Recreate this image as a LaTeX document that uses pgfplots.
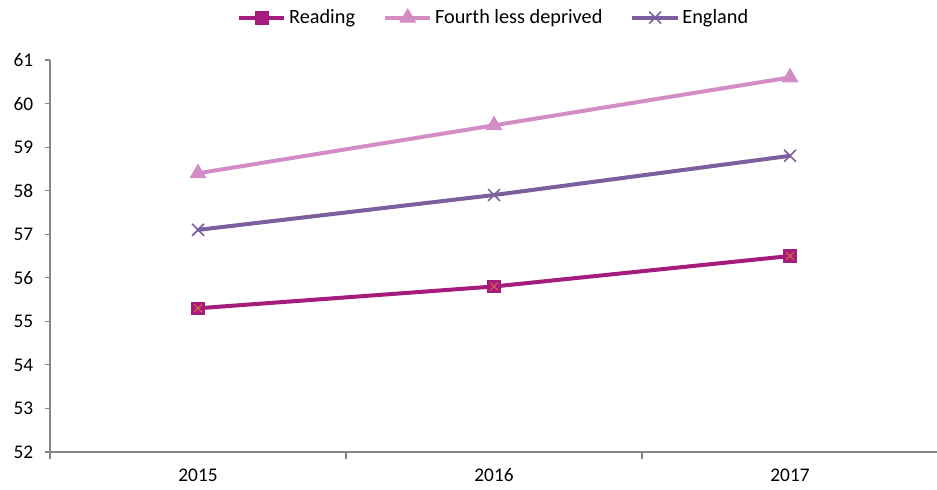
\documentclass[border=0pt]{standalone}
\usepackage{fontspec}
\setmainfont{Carlito}
\usepackage{pgfplots}
\pgfplotsset{compat=1.18}
\definecolor{reading}{HTML}{A51C7C}
\definecolor{readx}{HTML}{E0703A}
\definecolor{fourth}{HTML}{D38DC4}
\definecolor{england}{HTML}{7D5FA0}
\definecolor{axgray}{HTML}{868686}
\begin{document}
\begin{tikzpicture}[x=1pt,y=1pt]
\path[use as bounding box] (0,0) rectangle (702.75,366.75);
\begin{axis}[
  at={(37.5pt,27.75pt)}, anchor=south west,
  scale only axis, width=666pt, height=294pt,
  xmin=-0.5, xmax=2.5, ymin=52, ymax=61,
  axis x line*=bottom, axis y line*=left,
  axis line style={axgray, line width=1.3pt, -},
  xtick={0,1,2}, xticklabels={2015,2016,2017},
  major x tick style={draw=none},
  minor xtick={-0.5,0.5,1.5,2.5},
  minor tick length=5pt,
  ytick={52,53,...,61},
  tick align=outside, major tick length=4pt,
  tick style={axgray, line width=0.8pt},
  every tick label/.append style={font=\fontsize{14.5}{16}\selectfont},
  /pgf/number format/assume math mode=true,
  xticklabel style={yshift=-5pt},
  yticklabel style={xshift=-5pt},
  legend columns=3,
  legend style={at={(0.5,1.0)}, anchor=south, yshift=21.5pt, draw=none, fill=none,
    font=\fontsize{15.2}{17}\selectfont, /tikz/every even column/.append style={column sep=19pt}},
  legend image code/.code={\draw[#1, mark repeat=2, mark phase=2] plot coordinates {(0pt,0pt) (17pt,0pt) (34pt,0pt)};},
]
\addplot[reading, line width=3pt, mark=square*, mark size=4.7pt, mark options={solid, fill=reading, draw=reading, line width=0.5pt}] coordinates {(0,55.3) (1,55.8) (2,56.5)};
\addlegendentry{Reading}
\addplot[fourth, line width=3pt, mark=triangle*, mark size=6.8pt, mark options={solid, fill=fourth, draw=fourth, line width=0.5pt}] coordinates {(0,58.4) (1,59.5) (2,60.6)};
\addlegendentry{Fourth less deprived}
\addplot[england, line width=3pt, mark=x, mark size=6.3pt, mark options={solid, line width=1.2pt}] coordinates {(0,57.1) (1,57.9) (2,58.8)};
\addlegendentry{England}
\addplot[only marks, readx, mark=x, mark size=4pt, mark options={line width=0.7pt}, forget plot] coordinates {(0,55.3) (1,55.8) (2,56.5)};
\end{axis}
\end{tikzpicture}
\end{document}
